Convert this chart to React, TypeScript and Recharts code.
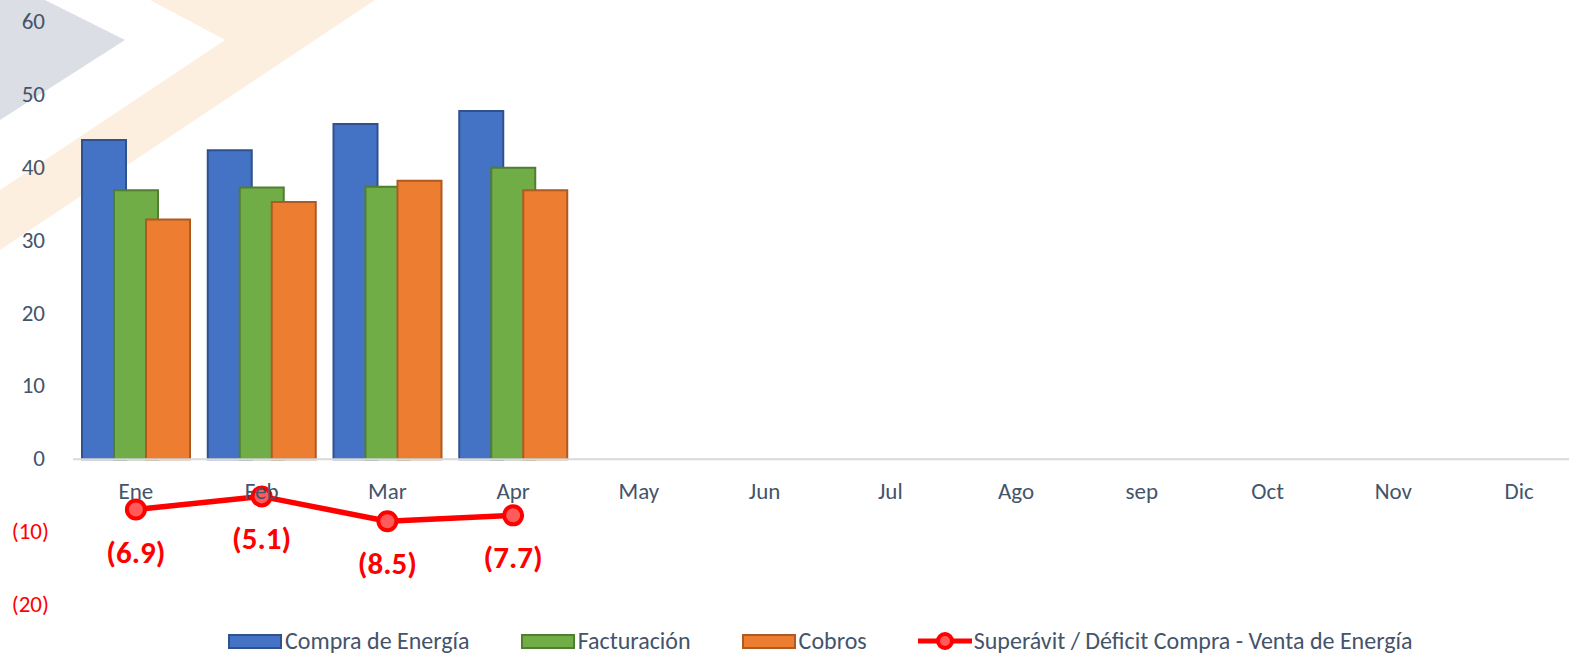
import React from "react";
import { Bar, ComposedChart, LabelList, Legend, Line, ReferenceLine, XAxis, YAxis } from "recharts";

const months = ["Ene", "Feb", "Mar", "Apr", "May", "Jun", "Jul", "Ago", "sep", "Oct", "Nov", "Dic"];
const compra = [43.8, 42.4, 46.0, 47.8, null, null, null, null, null, null, null, null];
const facturacion = [36.9, 37.3, 37.4, 40.0, null, null, null, null, null, null, null, null];
const cobros = [32.9, 35.3, 38.2, 36.9, null, null, null, null, null, null, null, null];
const superavit = [-6.9, -5.1, -8.5, -7.7, null, null, null, null, null, null, null, null];
const yTicks = [-20, -10, 0, 10, 20, 30, 40, 50, 60];

const data = months.map((m, i) => ({
  month: m,
  compra: compra[i],
  facturacion: facturacion[i],
  cobros: cobros[i],
  superavit: superavit[i],
}));

const FONT = "Carlito, Lato, 'Open Sans', sans-serif";
const TEXT = "#44546A";
const Y_MIN = -20;
const Y_MAX = 60;
const CHART_W = 1582;
const CHART_H = 657;
const TOP = 22;
const X_AXIS_H = 22;
const LEGEND_H = 30;
const PLOT_H = CHART_H - TOP - X_AXIS_H - LEGEND_H;
// distance from plot bottom up to the zero line
const ZERO_UP = (PLOT_H * (0 - Y_MIN)) / (Y_MAX - Y_MIN);

const fmt = (v: number) => (v < 0 ? `(${Math.abs(v)})` : `${v}`);

function YTick({ y, payload }: any) {
  const v = payload.value as number;
  const neg = v < 0;
  return (
    <text x={neg ? 49 : 45} y={y} dy={7} textAnchor="end" fill={neg ? "#FF0000" : TEXT} fontSize={23} fontFamily={FONT}>
      {fmt(v)}
    </text>
  );
}

function XTick({ x, y, payload }: any) {
  // y comes in below the plot (tick size + margin), move it to the zero line
  return (
    <text x={x} y={y - 8 - ZERO_UP + 32} dy={8} textAnchor="middle" fill={TEXT} fontSize={23} fontFamily={FONT}>
      {payload.value}
    </text>
  );
}

function PointLabel({ x, y, value }: any) {
  if (value == null) return null;
  return (
    <text x={x} y={y + 43} dy={10} textAnchor="middle" fill="#FF0000" fontSize={31} fontWeight="bold" fontFamily={FONT}>
      {`(${Math.abs(value).toFixed(1)})`}
    </text>
  );
}

const legendItems = [
  { name: "Compra de Energía", fill: "#4472C4", stroke: "#2F528F" },
  { name: "Facturación", fill: "#70AD47", stroke: "#507E32" },
  { name: "Cobros", fill: "#ED7D31", stroke: "#AE5A21" },
];

function LegendContent() {
  return (
    <div style={{ display: "flex", alignItems: "center", fontFamily: FONT, fontSize: 24, color: TEXT, lineHeight: "28px", whiteSpace: "nowrap" }}>
      {legendItems.map((it) => (
        <div key={it.name} style={{ display: "flex", alignItems: "center", marginRight: 51 }}>
          <span style={{ width: 50, height: 11, background: it.fill, border: `2px solid ${it.stroke}`, marginRight: 3 }} />
          <span>{it.name}</span>
        </div>
      ))}
      <div style={{ display: "flex", alignItems: "center" }}>
        <svg width={54} height={24} style={{ marginRight: 2 }}>
          <line x1={0} y1={12} x2={54} y2={12} stroke="#FF0000" strokeWidth={5} />
          <circle cx={27} cy={12} r={7} fill="#FF5B5B" stroke="#FF0000" strokeWidth={4} />
        </svg>
        <span>Superávit / Déficit Compra - Venta de Energía</span>
      </div>
    </div>
  );
}

export default function App() {
  return (
    <div style={{ position: "absolute", left: 0, top: 0, width: 1569, height: 657, overflow: "hidden", background: "#fff" }}>
      <svg width={1569} height={657} style={{ position: "absolute", left: 0, top: 0 }}>
        <polygon points="0,0 45,0 125,40 0,120" fill="#DBDEE4" />
        <polygon points="150,0 375,0 0,250 0,190 225,40" fill="#FDEFE0" />
      </svg>
      <div style={{ position: "absolute", left: 0, top: 0 }}>
        <ComposedChart
          width={CHART_W}
          height={CHART_H}
          data={data}
          margin={{ top: TOP, right: 0, bottom: 0, left: 0 }}
          barSize={44}
          barGap={-12}
        >
          <XAxis dataKey="month" height={X_AXIS_H} axisLine={false} tickLine={false} tick={<XTick />} interval={0} />
          <YAxis
            width={73}
            domain={[Y_MIN, Y_MAX]}
            ticks={yTicks}
            axisLine={false}
            tickLine={false}
            tick={<YTick />}
            interval={0}
          />
          <ReferenceLine y={0} stroke="#D9D9D9" strokeWidth={2} />
          <Bar dataKey="compra" fill="#4472C4" stroke="#2F528F" strokeWidth={2} isAnimationActive={false} />
          <Bar dataKey="facturacion" fill="#70AD47" stroke="#507E32" strokeWidth={2} isAnimationActive={false} />
          <Bar dataKey="cobros" fill="#ED7D31" stroke="#AE5A21" strokeWidth={2} isAnimationActive={false} />
          <Line
            dataKey="superavit"
            stroke="#FF0000"
            strokeWidth={5.5}
            dot={{ r: 9, fill: "#FF5B5B", stroke: "#FF0000", strokeWidth: 4 }}
            isAnimationActive={false}
          >
            <LabelList dataKey="superavit" content={<PointLabel />} />
          </Line>
          <Legend
            verticalAlign="bottom"
            height={LEGEND_H}
            wrapperStyle={{ left: 228, width: 1340, bottom: 0 }}
            content={<LegendContent />}
          />
        </ComposedChart>
      </div>
    </div>
  );
}
